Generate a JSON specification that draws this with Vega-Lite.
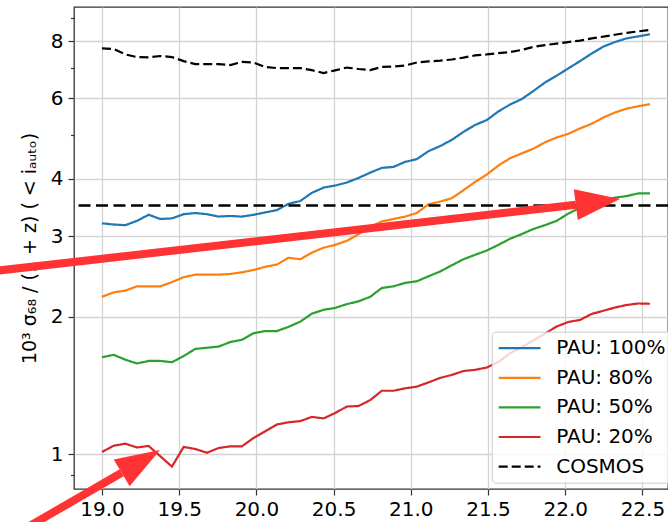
{
  "$schema": "https://vega.github.io/schema/vega-lite/v6.json",
  "width": 594,
  "height": 482,
  "autosize": {"type": "none"},
  "padding": {"left": 74, "top": 7, "right": 0, "bottom": 33},
  "background": "white",
  "config": {
    "font": "DejaVu Sans",
    "view": {"stroke": "#333333", "strokeWidth": 1.3}
  },
  "datasets": {
    "curves": [
      {"series":"PAU: 100%","x":19.000,"y":3.20},{"series":"PAU: 100%","x":19.076,"y":3.18},{"series":"PAU: 100%","x":19.151,"y":3.17},{"series":"PAU: 100%","x":19.227,"y":3.24},{"series":"PAU: 100%","x":19.302,"y":3.34},{"series":"PAU: 100%","x":19.378,"y":3.27},{"series":"PAU: 100%","x":19.453,"y":3.28},{"series":"PAU: 100%","x":19.529,"y":3.35},{"series":"PAU: 100%","x":19.604,"y":3.37},{"series":"PAU: 100%","x":19.680,"y":3.35},{"series":"PAU: 100%","x":19.755,"y":3.31},{"series":"PAU: 100%","x":19.831,"y":3.32},{"series":"PAU: 100%","x":19.906,"y":3.31},{"series":"PAU: 100%","x":19.982,"y":3.34},{"series":"PAU: 100%","x":20.057,"y":3.38},{"series":"PAU: 100%","x":20.133,"y":3.42},{"series":"PAU: 100%","x":20.208,"y":3.53},{"series":"PAU: 100%","x":20.284,"y":3.58},{"series":"PAU: 100%","x":20.359,"y":3.73},{"series":"PAU: 100%","x":20.435,"y":3.83},{"series":"PAU: 100%","x":20.510,"y":3.87},{"series":"PAU: 100%","x":20.586,"y":3.93},{"series":"PAU: 100%","x":20.661,"y":4.02},{"series":"PAU: 100%","x":20.737,"y":4.13},{"series":"PAU: 100%","x":20.812,"y":4.23},{"series":"PAU: 100%","x":20.888,"y":4.25},{"series":"PAU: 100%","x":20.963,"y":4.36},{"series":"PAU: 100%","x":21.039,"y":4.42},{"series":"PAU: 100%","x":21.114,"y":4.60},{"series":"PAU: 100%","x":21.190,"y":4.72},{"series":"PAU: 100%","x":21.265,"y":4.87},{"series":"PAU: 100%","x":21.341,"y":5.07},{"series":"PAU: 100%","x":21.416,"y":5.25},{"series":"PAU: 100%","x":21.492,"y":5.38},{"series":"PAU: 100%","x":21.567,"y":5.62},{"series":"PAU: 100%","x":21.643,"y":5.82},{"series":"PAU: 100%","x":21.718,"y":5.98},{"series":"PAU: 100%","x":21.794,"y":6.23},{"series":"PAU: 100%","x":21.869,"y":6.50},{"series":"PAU: 100%","x":21.945,"y":6.73},{"series":"PAU: 100%","x":22.020,"y":6.98},{"series":"PAU: 100%","x":22.096,"y":7.24},{"series":"PAU: 100%","x":22.171,"y":7.52},{"series":"PAU: 100%","x":22.247,"y":7.79},{"series":"PAU: 100%","x":22.322,"y":7.97},{"series":"PAU: 100%","x":22.398,"y":8.12},{"series":"PAU: 100%","x":22.473,"y":8.20},{"series":"PAU: 100%","x":22.549,"y":8.29},
      {"series":"PAU: 80%","x":19.000,"y":2.21},{"series":"PAU: 80%","x":19.076,"y":2.26},{"series":"PAU: 80%","x":19.151,"y":2.28},{"series":"PAU: 80%","x":19.227,"y":2.33},{"series":"PAU: 80%","x":19.302,"y":2.33},{"series":"PAU: 80%","x":19.378,"y":2.33},{"series":"PAU: 80%","x":19.453,"y":2.38},{"series":"PAU: 80%","x":19.529,"y":2.44},{"series":"PAU: 80%","x":19.604,"y":2.47},{"series":"PAU: 80%","x":19.680,"y":2.47},{"series":"PAU: 80%","x":19.755,"y":2.47},{"series":"PAU: 80%","x":19.831,"y":2.48},{"series":"PAU: 80%","x":19.906,"y":2.50},{"series":"PAU: 80%","x":19.982,"y":2.53},{"series":"PAU: 80%","x":20.057,"y":2.57},{"series":"PAU: 80%","x":20.133,"y":2.60},{"series":"PAU: 80%","x":20.208,"y":2.69},{"series":"PAU: 80%","x":20.284,"y":2.67},{"series":"PAU: 80%","x":20.359,"y":2.76},{"series":"PAU: 80%","x":20.435,"y":2.83},{"series":"PAU: 80%","x":20.510,"y":2.87},{"series":"PAU: 80%","x":20.586,"y":2.93},{"series":"PAU: 80%","x":20.661,"y":3.03},{"series":"PAU: 80%","x":20.737,"y":3.14},{"series":"PAU: 80%","x":20.812,"y":3.23},{"series":"PAU: 80%","x":20.888,"y":3.27},{"series":"PAU: 80%","x":20.963,"y":3.31},{"series":"PAU: 80%","x":21.039,"y":3.37},{"series":"PAU: 80%","x":21.114,"y":3.52},{"series":"PAU: 80%","x":21.190,"y":3.57},{"series":"PAU: 80%","x":21.265,"y":3.63},{"series":"PAU: 80%","x":21.341,"y":3.78},{"series":"PAU: 80%","x":21.416,"y":3.94},{"series":"PAU: 80%","x":21.492,"y":4.09},{"series":"PAU: 80%","x":21.567,"y":4.28},{"series":"PAU: 80%","x":21.643,"y":4.44},{"series":"PAU: 80%","x":21.718,"y":4.55},{"series":"PAU: 80%","x":21.794,"y":4.66},{"series":"PAU: 80%","x":21.869,"y":4.81},{"series":"PAU: 80%","x":21.945,"y":4.93},{"series":"PAU: 80%","x":22.020,"y":5.02},{"series":"PAU: 80%","x":22.096,"y":5.16},{"series":"PAU: 80%","x":22.171,"y":5.28},{"series":"PAU: 80%","x":22.247,"y":5.45},{"series":"PAU: 80%","x":22.322,"y":5.59},{"series":"PAU: 80%","x":22.398,"y":5.70},{"series":"PAU: 80%","x":22.473,"y":5.77},{"series":"PAU: 80%","x":22.549,"y":5.83},
      {"series":"PAU: 50%","x":19.000,"y":1.63},{"series":"PAU: 50%","x":19.076,"y":1.65},{"series":"PAU: 50%","x":19.151,"y":1.61},{"series":"PAU: 50%","x":19.227,"y":1.58},{"series":"PAU: 50%","x":19.302,"y":1.60},{"series":"PAU: 50%","x":19.378,"y":1.60},{"series":"PAU: 50%","x":19.453,"y":1.59},{"series":"PAU: 50%","x":19.529,"y":1.64},{"series":"PAU: 50%","x":19.604,"y":1.70},{"series":"PAU: 50%","x":19.680,"y":1.71},{"series":"PAU: 50%","x":19.755,"y":1.72},{"series":"PAU: 50%","x":19.831,"y":1.76},{"series":"PAU: 50%","x":19.906,"y":1.78},{"series":"PAU: 50%","x":19.982,"y":1.84},{"series":"PAU: 50%","x":20.057,"y":1.86},{"series":"PAU: 50%","x":20.133,"y":1.86},{"series":"PAU: 50%","x":20.208,"y":1.90},{"series":"PAU: 50%","x":20.284,"y":1.95},{"series":"PAU: 50%","x":20.359,"y":2.03},{"series":"PAU: 50%","x":20.435,"y":2.07},{"series":"PAU: 50%","x":20.510,"y":2.09},{"series":"PAU: 50%","x":20.586,"y":2.13},{"series":"PAU: 50%","x":20.661,"y":2.16},{"series":"PAU: 50%","x":20.737,"y":2.21},{"series":"PAU: 50%","x":20.812,"y":2.31},{"series":"PAU: 50%","x":20.888,"y":2.33},{"series":"PAU: 50%","x":20.963,"y":2.37},{"series":"PAU: 50%","x":21.039,"y":2.39},{"series":"PAU: 50%","x":21.114,"y":2.45},{"series":"PAU: 50%","x":21.190,"y":2.51},{"series":"PAU: 50%","x":21.265,"y":2.59},{"series":"PAU: 50%","x":21.341,"y":2.67},{"series":"PAU: 50%","x":21.416,"y":2.73},{"series":"PAU: 50%","x":21.492,"y":2.79},{"series":"PAU: 50%","x":21.567,"y":2.87},{"series":"PAU: 50%","x":21.643,"y":2.96},{"series":"PAU: 50%","x":21.718,"y":3.03},{"series":"PAU: 50%","x":21.794,"y":3.11},{"series":"PAU: 50%","x":21.869,"y":3.17},{"series":"PAU: 50%","x":21.945,"y":3.24},{"series":"PAU: 50%","x":22.020,"y":3.36},{"series":"PAU: 50%","x":22.096,"y":3.46},{"series":"PAU: 50%","x":22.171,"y":3.54},{"series":"PAU: 50%","x":22.247,"y":3.61},{"series":"PAU: 50%","x":22.322,"y":3.64},{"series":"PAU: 50%","x":22.398,"y":3.67},{"series":"PAU: 50%","x":22.473,"y":3.72},{"series":"PAU: 50%","x":22.549,"y":3.72},
      {"series":"PAU: 20%","x":19.000,"y":1.012},{"series":"PAU: 20%","x":19.076,"y":1.044},{"series":"PAU: 20%","x":19.151,"y":1.055},{"series":"PAU: 20%","x":19.227,"y":1.035},{"series":"PAU: 20%","x":19.302,"y":1.043},{"series":"PAU: 20%","x":19.378,"y":0.99},{"series":"PAU: 20%","x":19.453,"y":0.94},{"series":"PAU: 20%","x":19.529,"y":1.038},{"series":"PAU: 20%","x":19.604,"y":1.027},{"series":"PAU: 20%","x":19.680,"y":1.008},{"series":"PAU: 20%","x":19.755,"y":1.032},{"series":"PAU: 20%","x":19.831,"y":1.041},{"series":"PAU: 20%","x":19.906,"y":1.041},{"series":"PAU: 20%","x":19.982,"y":1.086},{"series":"PAU: 20%","x":20.057,"y":1.123},{"series":"PAU: 20%","x":20.133,"y":1.162},{"series":"PAU: 20%","x":20.208,"y":1.175},{"series":"PAU: 20%","x":20.284,"y":1.182},{"series":"PAU: 20%","x":20.359,"y":1.207},{"series":"PAU: 20%","x":20.435,"y":1.198},{"series":"PAU: 20%","x":20.510,"y":1.231},{"series":"PAU: 20%","x":20.586,"y":1.272},{"series":"PAU: 20%","x":20.661,"y":1.275},{"series":"PAU: 20%","x":20.737,"y":1.314},{"series":"PAU: 20%","x":20.812,"y":1.377},{"series":"PAU: 20%","x":20.888,"y":1.377},{"series":"PAU: 20%","x":20.963,"y":1.394},{"series":"PAU: 20%","x":21.039,"y":1.406},{"series":"PAU: 20%","x":21.114,"y":1.436},{"series":"PAU: 20%","x":21.190,"y":1.469},{"series":"PAU: 20%","x":21.265,"y":1.491},{"series":"PAU: 20%","x":21.341,"y":1.521},{"series":"PAU: 20%","x":21.416,"y":1.530},{"series":"PAU: 20%","x":21.492,"y":1.548},{"series":"PAU: 20%","x":21.567,"y":1.591},{"series":"PAU: 20%","x":21.643,"y":1.663},{"series":"PAU: 20%","x":21.718,"y":1.714},{"series":"PAU: 20%","x":21.794,"y":1.774},{"series":"PAU: 20%","x":21.869,"y":1.837},{"series":"PAU: 20%","x":21.945,"y":1.903},{"series":"PAU: 20%","x":22.020,"y":1.947},{"series":"PAU: 20%","x":22.096,"y":1.967},{"series":"PAU: 20%","x":22.171,"y":2.027},{"series":"PAU: 20%","x":22.247,"y":2.060},{"series":"PAU: 20%","x":22.322,"y":2.094},{"series":"PAU: 20%","x":22.398,"y":2.121},{"series":"PAU: 20%","x":22.473,"y":2.137},{"series":"PAU: 20%","x":22.549,"y":2.134},
      {"series":"COSMOS","x":19.000,"y":7.72},{"series":"COSMOS","x":19.076,"y":7.70},{"series":"COSMOS","x":19.151,"y":7.49},{"series":"COSMOS","x":19.227,"y":7.39},{"series":"COSMOS","x":19.302,"y":7.38},{"series":"COSMOS","x":19.378,"y":7.43},{"series":"COSMOS","x":19.453,"y":7.39},{"series":"COSMOS","x":19.529,"y":7.24},{"series":"COSMOS","x":19.604,"y":7.13},{"series":"COSMOS","x":19.680,"y":7.13},{"series":"COSMOS","x":19.755,"y":7.13},{"series":"COSMOS","x":19.831,"y":7.10},{"series":"COSMOS","x":19.906,"y":7.21},{"series":"COSMOS","x":19.982,"y":7.19},{"series":"COSMOS","x":20.057,"y":7.03},{"series":"COSMOS","x":20.133,"y":6.99},{"series":"COSMOS","x":20.208,"y":6.99},{"series":"COSMOS","x":20.284,"y":6.99},{"series":"COSMOS","x":20.359,"y":6.92},{"series":"COSMOS","x":20.435,"y":6.82},{"series":"COSMOS","x":20.510,"y":6.91},{"series":"COSMOS","x":20.586,"y":7.01},{"series":"COSMOS","x":20.661,"y":6.96},{"series":"COSMOS","x":20.737,"y":6.92},{"series":"COSMOS","x":20.812,"y":7.03},{"series":"COSMOS","x":20.888,"y":7.05},{"series":"COSMOS","x":20.963,"y":7.08},{"series":"COSMOS","x":21.039,"y":7.19},{"series":"COSMOS","x":21.114,"y":7.23},{"series":"COSMOS","x":21.190,"y":7.26},{"series":"COSMOS","x":21.265,"y":7.30},{"series":"COSMOS","x":21.341,"y":7.37},{"series":"COSMOS","x":21.416,"y":7.45},{"series":"COSMOS","x":21.492,"y":7.49},{"series":"COSMOS","x":21.567,"y":7.54},{"series":"COSMOS","x":21.643,"y":7.58},{"series":"COSMOS","x":21.718,"y":7.66},{"series":"COSMOS","x":21.794,"y":7.78},{"series":"COSMOS","x":21.869,"y":7.85},{"series":"COSMOS","x":21.945,"y":7.91},{"series":"COSMOS","x":22.020,"y":7.97},{"series":"COSMOS","x":22.096,"y":8.03},{"series":"COSMOS","x":22.171,"y":8.12},{"series":"COSMOS","x":22.247,"y":8.19},{"series":"COSMOS","x":22.322,"y":8.27},{"series":"COSMOS","x":22.398,"y":8.35},{"series":"COSMOS","x":22.473,"y":8.41},{"series":"COSMOS","x":22.549,"y":8.47}
    ],
    "threshold": [{"y": 3.5}],
    "shafts": [
      {"x": 18.2746, "y": 2.510, "x2": 22.0687, "y2": 3.514},
      {"x": 18.4265, "y": 0.665, "x2": 19.1276, "y2": 0.9111}
    ],
    "head1": [{"x": 22.2118, "y": 3.565}],
    "head2": [{"x": 19.2516, "y": 0.9649}]
  },
  "layer": [
    {
      "data": {"name": "curves"},
      "mark": {"type": "line", "strokeWidth": 2.2},
      "encoding": {
        "x": {
          "field": "x", "type": "quantitative",
          "scale": {"domain": [18.8187, 22.6658], "nice": false, "zero": false},
          "axis": {
            "values": [19, 19.5, 20, 20.5, 21, 21.5, 22, 22.5],
            "format": ".1f", "title": null,
            "labelFontSize": 20, "labelColor": "#000000", "labelFont": "DejaVu Sans",
            "labelFlush": false, "labelPadding": 4,
            "tickSize": 6, "tickColor": "#333333", "tickWidth": 1.2,
            "grid": true, "gridColor": "#d3d3d3", "gridWidth": 1.3,
            "domain": false
          }
        },
        "y": {
          "field": "y", "type": "quantitative",
          "scale": {"type": "log", "domain": [0.8397, 9.509], "nice": false},
          "axis": {
            "values": [0.9, 1, 2, 3, 4, 5, 6, 7, 8, 9],
            "labelExpr": "indexof([1,2,3,4,6,8], datum.value) >= 0 ? format(datum.value, 'd') : ''",
            "labelFontSize": 20, "labelColor": "#000000", "labelFont": "DejaVu Sans", "labelPadding": 5,
            "tickSize": {"condition": {"test": "indexof([1,2,3,4,6,8], datum.value) >= 0", "value": 6}, "value": 3.5},
            "tickColor": "#333333", "tickWidth": 1.2,
            "grid": true, "gridColor": "#d3d3d3", "gridWidth": 1.3,
            "gridOpacity": {"condition": {"test": "indexof([1,2,3,4,6,8], datum.value) >= 0", "value": 1}, "value": 0},
            "domain": false,
            "title": "10³ σ₆₈ / (1 + z) ( < iₐᵤₜₒ)",
            "titleFontSize": 19, "titleFont": "DejaVu Sans", "titleFontWeight": "normal", "titleColor": "#000000", "titlePadding": 11
          }
        },
        "color": {
          "field": "series", "type": "nominal",
          "scale": {"domain": ["PAU: 100%", "PAU: 80%", "PAU: 50%", "PAU: 20%", "COSMOS"], "range": ["#1f77b4", "#ff7f0e", "#2ca02c", "#d62728", "#000000"]},
          "legend": {"title": null, "orient": "none", "legendX": 417.7, "legendY": 324.7, "symbolType": "M-1,0L3.4,0", "symbolSize": 361, "symbolStrokeWidth": 2.2, "labelFontSize": 20, "labelFont": "DejaVu Sans", "labelColor": "#000000", "labelOffset": 37, "rowPadding": 8.6, "padding": 5.5, "fillColor": "rgba(255,255,255,0.8)", "strokeColor": "#cccccc", "cornerRadius": 4, "labelLimit": 300}
        },
        "strokeDash": {
          "field": "series", "type": "nominal",
          "scale": {"domain": ["PAU: 100%", "PAU: 80%", "PAU: 50%", "PAU: 20%", "COSMOS"], "range": [[1, 0], [1, 0], [1, 0], [1, 0], [9, 4]]},
          "legend": {"title": null, "orient": "none", "legendX": 417.7, "legendY": 324.7, "symbolType": "M-1,0L3.4,0", "symbolSize": 361, "symbolStrokeWidth": 2.2, "labelFontSize": 20, "labelFont": "DejaVu Sans", "labelColor": "#000000", "labelOffset": 37, "rowPadding": 8.6, "padding": 5.5, "fillColor": "rgba(255,255,255,0.8)", "strokeColor": "#cccccc", "cornerRadius": 4, "labelLimit": 300}
        }
      }
    },
    {
      "data": {"name": "threshold"},
      "mark": {"type": "rule", "color": "#000000", "strokeWidth": 2.5, "strokeDash": [12, 5.5]},
      "encoding": {"y": {"field": "y", "type": "quantitative"}}
    },
    {
      "data": {"name": "shafts"},
      "mark": {"type": "rule", "color": "#ff3333", "strokeWidth": 8, "strokeCap": "butt", "clip": false},
      "encoding": {
        "x": {"field": "x", "type": "quantitative"},
        "y": {"field": "y", "type": "quantitative"},
        "x2": {"field": "x2"},
        "y2": {"field": "y2"}
      }
    },
    {
      "data": {"name": "head1"},
      "mark": {"type": "point", "shape": "M1,0L-1,-0.697L-1,0.697Z", "filled": true, "color": "#ff3333", "opacity": 1, "size": 1989, "angle": -7.3, "strokeWidth": 0},
      "encoding": {
        "x": {"field": "x", "type": "quantitative"},
        "y": {"field": "y", "type": "quantitative"}
      }
    },
    {
      "data": {"name": "head2"},
      "mark": {"type": "point", "shape": "M1,0L-1,-0.697L-1,0.697Z", "filled": true, "color": "#ff3333", "opacity": 1, "size": 1989, "angle": -30.8, "strokeWidth": 0},
      "encoding": {
        "x": {"field": "x", "type": "quantitative"},
        "y": {"field": "y", "type": "quantitative"}
      }
    }
  ]
}
